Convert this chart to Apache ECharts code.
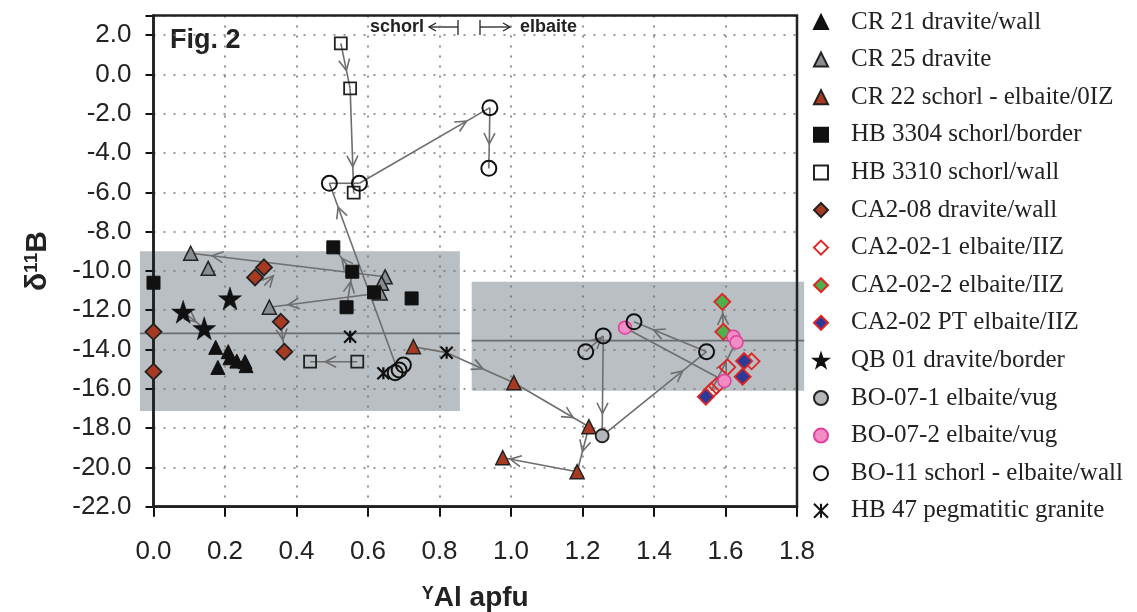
<!DOCTYPE html>
<html><head><meta charset="utf-8">
<script src="https://cdn.jsdelivr.net/npm/echarts@6/dist/echarts.min.js"></script>
<style>html,body{margin:0;padding:0;background:#fff}#c{width:1137px;height:612px}</style>
</head><body><div id="c"></div>
<script>
// ---- data (Y-Al apfu, delta11B) ----
const cr21    = [[0.174,-13.89],[0.180,-14.91],[0.209,-14.11],[0.214,-14.42],[0.233,-14.59],[0.256,-14.62],[0.259,-14.82]];
const cr25    = [[0.104,-9.10],[0.153,-9.87],[0.324,-11.85],[0.648,-10.30],[0.638,-10.63],[0.634,-11.12]];
const cr22    = [[0.727,-13.86],[1.008,-15.69],[1.218,-17.93],[1.185,-20.22],[0.977,-19.51]];
const hb3304  = [[0.0,-10.6],[0.503,-8.80],[0.556,-10.04],[0.540,-11.85],[0.617,-11.09],[0.722,-11.40]];
const hb3310  = [[0.524,1.58],[0.550,-0.71],[0.560,-6.02],[0.438,-14.62],[0.570,-14.62]];
const ca208   = [[0.0,-13.1],[0.0,-15.13],[0.309,-9.82],[0.284,-10.33],[0.356,-12.59],[0.366,-14.11]];
const ca2021  = [[1.673,-14.6],[1.605,-14.9],[1.575,-15.85],[1.56,-16.1]];
const ca2022  = [[1.591,-11.57],[1.594,-13.1]];
const ca202pt = [[1.652,-14.59],[1.648,-15.38],[1.545,-16.4]];
const qb01    = [[0.083,-12.08],[0.142,-12.92],[0.214,-11.4]];
const bo071   = [[1.255,-18.39]];
const bo072   = [[1.319,-12.89],[1.622,-13.35],[1.631,-13.63],[1.597,-15.6]];
const bo11    = [[0.492,-5.54],[0.576,-5.54],[0.941,-1.69],[0.938,-4.78],[0.699,-14.79],[0.687,-15.04],[0.676,-15.18],[1.209,-14.11],[1.258,-13.31],[1.344,-12.59],[1.547,-14.11]];
const hb47    = [[0.550,-13.35],[0.643,-15.21],[0.820,-14.16]];

// arrows: x1,y1,x2,y2, fraction where the arrowhead sits
const arrows = [
 [0.524,1.58, 0.550,-0.71, 0.6],
 [0.550,-0.71, 0.560,-6.02, 0.75],
 [0.576,-5.54, 0.941,-1.69, 0.82],
 [0.941,-1.69, 0.938,-4.78, 0.6],
 [0.680,-14.9, 0.492,-5.54, 0.87],
 [0.648,-10.30, 0.104,-9.10, 0.89],
 [0.634,-11.12, 0.324,-11.85, 0.83],
 [0.540,-11.85, 0.556,-10.04, 0.72],
 [0.556,-10.04, 0.503,-8.80, 0.55],
 [0.310,-10.75, 0.335,-10.25, 1.0],
 [0.356,-12.59, 0.366,-14.11, 0.61],
 [0.083,-12.08, 0.142,-12.92, 0.6],
 [0.570,-14.62, 0.438,-14.62, 0.68],
 [0.820,-14.16, 1.008,-15.69, 0.54],
 [1.008,-15.69, 1.218,-17.93, 0.79],
 [1.218,-17.93, 1.185,-20.22, 0.55],
 [1.185,-20.22, 0.977,-19.51, 0.9],
 [1.209,-14.11, 1.258,-13.31, 0.9],
 [1.258,-13.31, 1.255,-18.39, 0.78],
 [1.255,-18.39, 1.547,-14.11, 0.77],
 [1.547,-14.11, 1.344,-12.59, 0.73],
 [1.560,-16.1, 1.630,-13.6, 0.6],
 [1.594,-13.1, 1.591,-11.57, 0.6]
];
const links = [
 [0.492,-5.54, 0.576,-5.54],
 [0.727,-13.86, 0.820,-14.16],
 [1.597,-15.6, 1.319,-12.89]
];
// shaded fields: xFrom, xTo, yTop, yBottom, yMean
const boxes = [[-0.038,0.857,-9.0,-17.13,-13.18],[0.89,1.82,-10.55,-16.1,-13.55]];

const STAR = 'path://M50,0 L61.8,35.1 L98.1,35.1 L68.8,56.9 L79.4,91.9 L50,70.5 L20.6,91.9 L31.2,56.9 L1.9,35.1 L38.2,35.1 Z';
const ASTER = 'path://M0,0 L20,20 M0,20 L20,0 M10,0 L10,20';
const RED = '#a83a22';

function sc(name, data, symbol, size, color, border, bw){
  return {type:'scatter', name, data, symbol, symbolSize:size, z:5,
    itemStyle:{color, borderColor:border, borderWidth:bw, opacity:1},
    emphasis:{disabled:true}};
}

const arrowColor = '#6e6e6e';
function lineRender(withHead){
  return function(params, api){
    const a = api.coord([api.value(0), api.value(1)]);
    const b = api.coord([api.value(2), api.value(3)]);
    const ch = [{type:'line', shape:{x1:a[0],y1:a[1],x2:b[0],y2:b[1]}, style:{stroke:arrowColor, lineWidth:1.6}}];
    if (withHead){
      const t = api.value(4);
      const dx=b[0]-a[0], dy=b[1]-a[1], L=Math.hypot(dx,dy)||1, ux=dx/L, uy=dy/L;
      const px=a[0]+dx*t, py=a[1]+dy*t, len=11, w=5.5;
      ch.push({type:'polyline', shape:{points:[[px-ux*len-uy*w, py-uy*len+ux*w],[px,py],[px-ux*len+uy*w, py-uy*len-ux*w]]},
        style:{stroke:arrowColor, lineWidth:1.6, fill:null}});
    }
    return {type:'group', children:ch};
  };
}

const names = ['CR 21 dravite/wall','CR 25 dravite','CR 22 schorl - elbaite/0IZ','HB 3304 schorl/border','HB 3310 schorl/wall',
 'CA2-08 dravite/wall','CA2-02-1 elbaite/IIZ','CA2-02-2 elbaite/IIZ','CA2-02 PT elbaite/IIZ','QB 01 dravite/border',
 'BO-07-1 elbaite/vug','BO-07-2 elbaite/vug','BO-11 schorl - elbaite/wall','HB 47 pegmatitic granite'];

const chart = echarts.init(document.getElementById('c'), null, {renderer:'canvas'});
const axisFont = {fontFamily:'Liberation Sans, Arial, sans-serif', fontSize:26, color:'#222'};
chart.setOption({
  animation:false,
  backgroundColor:'#ffffff',
  grid:{left:153.5, right:340, top:15.5, bottom:105.3, show:true, borderColor:'#222', borderWidth:2.5, z:1.7,
    containLabel:false, outerBoundsMode:'none'},
  xAxis:{type:'value', min:0, max:1.8, interval:0.2, z:1.5,
    axisLine:{show:true, onZero:false, lineStyle:{color:'#111', width:2.5}},
    axisTick:{show:true, inside:false, length:10, lineStyle:{color:'#111', width:2}},
    axisLabel:Object.assign({margin:32, formatter:v=>v.toFixed(1)}, axisFont),
    splitLine:{show:true, lineStyle:{color:'#777', width:1.6, type:[2,8]}},
    name:'{s|Y}{b|Al apfu}', nameLocation:'middle', nameGap:78,
    nameTextStyle:{rich:{
      s:{fontFamily:'Liberation Sans, Arial', fontWeight:'bold', fontSize:18, verticalAlign:'top', color:'#222', padding:[0,0,10,0]},
      b:{fontFamily:'Liberation Sans, Arial', fontWeight:'bold', fontSize:28, color:'#222'}}}
  },
  yAxis:{type:'value', min:-22, max:3, interval:2, z:1.5,
    axisLine:{show:true, onZero:false, lineStyle:{color:'#111', width:2.5}},
    axisTick:{show:true, inside:false, length:8, lineStyle:{color:'#111', width:2}},
    axisLabel:Object.assign({margin:22, padding:[12,0,0,0], formatter:v=> v>2.5 ? '' : v.toFixed(1)}, axisFont),
    splitLine:{show:true, lineStyle:{color:'#777', width:1.6, type:[2,8]}},
    name:'{d|δ}{s|11}{d|B}', nameLocation:'middle', nameRotate:90, nameGap:100,
    nameTextStyle:{rich:{
      d:{fontFamily:'Liberation Sans, Arial', fontWeight:'bold', fontSize:30, color:'#222'},
      s:{fontFamily:'Liberation Sans, Arial', fontWeight:'bold', fontSize:19, color:'#222', verticalAlign:'top', padding:[0,0,12,0]}}}
  },
  legend:{orient:'vertical', left:808, top:3.5, itemWidth:14, itemHeight:14, itemGap:10.6,
    selectedMode:false, data:names,
    textStyle:{fontFamily:'Liberation Serif, Times New Roman, serif', fontSize:25, lineHeight:27, color:'#222', padding:[0,0,0,18]}},
  graphic:[
    {type:'text', left:170, top:27, style:{text:'Fig. 2', font:'bold 27px "Liberation Sans", Arial', fill:'#222'}},
    {type:'text', left:370, top:18, style:{text:'schorl', font:'bold 18px "Liberation Sans", Arial', fill:'#222'}},
    {type:'polyline', shape:{points:[[429,27],[458,27]]}, style:{stroke:'#222', lineWidth:1.3}},
    {type:'polyline', shape:{points:[[436,23],[429,27],[436,31]]}, style:{stroke:'#222', lineWidth:1.3, fill:null}},
    {type:'polyline', shape:{points:[[458,20],[458,35]]}, style:{stroke:'#222', lineWidth:1.3}},
    {type:'polyline', shape:{points:[[480,20],[480,35]]}, style:{stroke:'#222', lineWidth:1.3}},
    {type:'polyline', shape:{points:[[480,27],[510,27]]}, style:{stroke:'#222', lineWidth:1.3}},
    {type:'polyline', shape:{points:[[503,23],[510,27],[503,31]]}, style:{stroke:'#222', lineWidth:1.3, fill:null}},
    {type:'text', left:520, top:18, style:{text:'elbaite', font:'bold 18px "Liberation Sans", Arial', fill:'#222'}}
  ],
  series:[
    {type:'custom', name:'fields', z:1, silent:true, clip:false, data:boxes,
      encode:{x:[0,1], y:[2,3]},
      renderItem(params, api){
        const p0 = api.coord([api.value(0), api.value(2)]);
        const p1 = api.coord([api.value(1), api.value(3)]);
        const m0 = api.coord([api.value(0), api.value(4)]);
        const m1 = api.coord([api.value(1), api.value(4)]);
        return {type:'group', children:[
          {type:'rect', shape:{x:p0[0], y:p0[1], width:p1[0]-p0[0], height:p1[1]-p0[1]}, style:{fill:'#b9bfc3'}},
          {type:'line', shape:{x1:m0[0],y1:m0[1],x2:m1[0],y2:m1[1]}, style:{stroke:'#6a6e71', lineWidth:1.6}}
        ]};
      }},
    {type:'custom', name:'arrows', z:3, silent:true, clip:false, data:arrows, encode:{x:[0,2], y:[1,3]}, renderItem:lineRender(true)},
    {type:'custom', name:'links', z:3, silent:true, clip:false, data:links, encode:{x:[0,2], y:[1,3]}, renderItem:lineRender(false)},
    sc(names[0], cr21, 'triangle', 14, '#111', '#111', 1),
    sc(names[1], cr25, 'triangle', 14, '#8a8d90', '#222', 1.5),
    sc(names[2], cr22, 'triangle', 14, RED, '#222', 1.5),
    sc(names[3], hb3304, 'rect', 13, '#111', '#111', 1),
    sc(names[4], hb3310, 'rect', 12, 'rgba(0,0,0,0)', '#222', 1.8),
    sc(names[5], ca208, 'diamond', 16, RED, '#222', 1.8),
    sc(names[6], ca2021, 'diamond', 16, 'rgba(0,0,0,0)', '#e02424', 1.8),
    sc(names[7], ca2022, 'diamond', 16, '#4cb04c', '#e02424', 1.8),
    sc(names[8], ca202pt, 'diamond', 16, '#2d3a98', '#e02424', 1.8),
    sc(names[9], qb01, STAR, 23, '#111', '#111', 0.5),
    sc(names[10], bo071, 'circle', 13, '#b3b7ba', '#222', 1.8),
    sc(names[11], bo072, 'circle', 13, '#f28cc4', '#e0409a', 1.5),
    sc(names[12], bo11, 'circle', 15, 'rgba(0,0,0,0)', '#111', 2),
    sc(names[13], hb47, ASTER, 12, 'rgba(0,0,0,0)', '#111', 2.2)
  ]
});
</script></body></html>
